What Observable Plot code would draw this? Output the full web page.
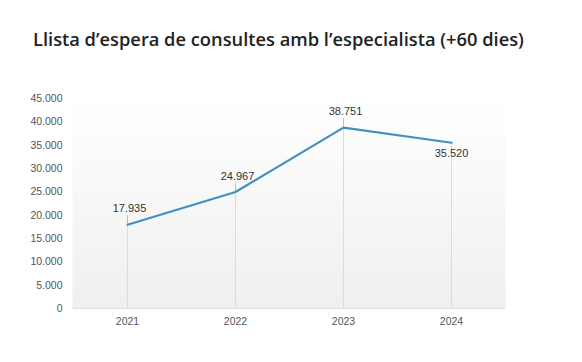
<!DOCTYPE html>
<html>
<head>
<meta charset="utf-8">
<script src="https://cdn.jsdelivr.net/npm/d3@7"></script>
<script src="https://cdn.jsdelivr.net/npm/@observablehq/plot@0.6"></script>
<style>
  body { margin: 0; background: #fff; }
  #title { height: 60px; box-sizing: border-box; padding: 29px 0 0 33px; font-family: "Open Sans", sans-serif; font-weight: 600; font-size: 18.3px; color: #222; line-height: 20px; white-space: nowrap; }
</style>
</head>
<body>
<div id="title">Llista d’espera de consultes amb l’especialista (+60 dies)</div>
<div id="chart"></div>
<script>
const years = ["2021", "2022", "2023", "2024"];
const values = [17935, 24967, 38751, 35520];
const labelPos = ["above", "above", "above", "below"];
const yTicks = [0, 5000, 10000, 15000, 20000, 25000, 30000, 35000, 40000, 45000];

const data = years.map((y, i) => ({year: y, value: values[i], pos: labelPos[i]}));
const locale = d3.formatLocale({decimal: ",", thousands: ".", grouping: [3], currency: ["", "€"]});
const fmt = locale.format(",d");
const above = data.filter(d => d.pos === "above");
const below = data.filter(d => d.pos === "below");

const chart = Plot.plot({
  width: 582,
  height: 302,
  marginLeft: 72,
  marginRight: 77,
  marginTop: 38,
  marginBottom: 54,
  style: {fontFamily: "Liberation Sans, Arial, sans-serif", fontSize: "10.5px", color: "#555", background: "transparent"},
  x: {type: "point", domain: years, padding: 0.5, label: null, tickSize: 0, tickPadding: 9},
  y: {domain: [0, 45000], ticks: yTicks, tickFormat: fmt, label: null, tickSize: 0, tickPadding: 10},
  marks: [
    Plot.frame({fill: "url(#bggrad)", stroke: null}),
    Plot.ruleY([0], {stroke: "#e2e2e2"}),
    Plot.ruleX(data, {x: "year", y1: 0, y2: "value", stroke: "#dcdcdc", strokeWidth: 1}),
    Plot.ruleX(above, {x: "year", y1: "value", y2: "value", insetTop: -9, stroke: "#bdbdbd", strokeWidth: 1}),
    Plot.line(data, {x: "year", y: "value", stroke: "#4190c2", strokeWidth: 2.2}),
    Plot.text(above, {x: "year", y: "value", text: d => fmt(d.value), dy: -16, dx: 2, fill: "#333", fontSize: 11}),
    Plot.text(below, {x: "year", y: "value", text: d => fmt(d.value), dy: 11, fill: "#333", fontSize: 11})
  ]
});

const ns = "http://www.w3.org/2000/svg";
const defs = document.createElementNS(ns, "defs");
defs.innerHTML = '<linearGradient id="bggrad" x1="0" y1="0" x2="0" y2="1"><stop offset="0" stop-color="#ffffff"/><stop offset="0.12" stop-color="#fdfdfd"/><stop offset="1" stop-color="#efefef"/></linearGradient>';
chart.insertBefore(defs, chart.firstChild);

document.getElementById("chart").appendChild(chart);
</script>
</body>
</html>
